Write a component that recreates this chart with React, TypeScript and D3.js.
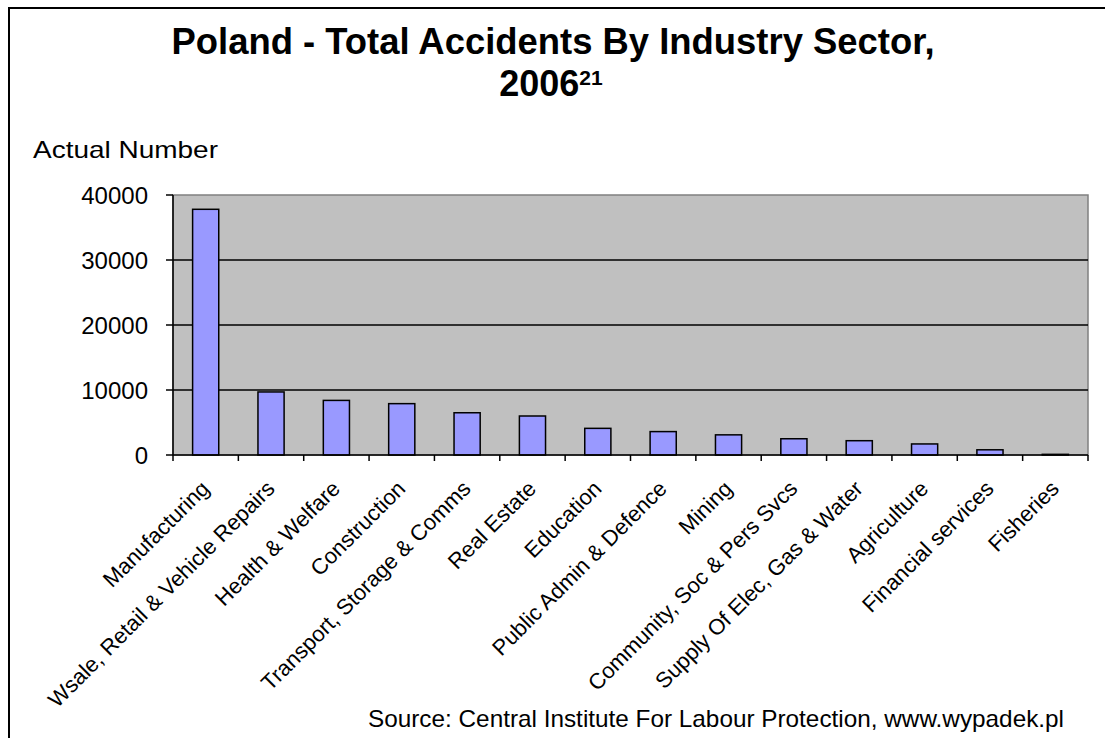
import React from "react";
import * as d3 from "d3";

const categories = [
  "Manufacturing",
  "Wsale, Retail & Vehicle Repairs",
  "Health & Welfare",
  "Construction",
  "Transport, Storage & Comms",
  "Real Estate",
  "Education",
  "Public Admin & Defence",
  "Mining",
  "Community, Soc & Pers Svcs",
  "Supply Of Elec, Gas & Water",
  "Agriculture",
  "Financial services",
  "Fisheries",
];
const values = [37800, 9700, 8400, 7900, 6500, 6000, 4100, 3600, 3100, 2500, 2200, 1700, 800, 100];
const yTicks = [0, 10000, 20000, 30000, 40000];

const W = 1105;
const H = 738;
const plot = { left: 173, right: 1088, top: 195, bottom: 455 };
const FONT = "Liberation Sans, Arial, sans-serif";

export default function App() {
  const x = d3
    .scaleBand<string>()
    .domain(categories)
    .range([plot.left, plot.right])
    .paddingInner(0.6)
    .paddingOuter(0.3);
  const step = (plot.right - plot.left) / categories.length;
  const y = d3.scaleLinear().domain([0, 40000]).range([plot.bottom, plot.top]);
  const boundaries = d3.range(categories.length + 1).map((i) => plot.left + i * step);

  return (
    <svg
      width={W}
      height={H}
      style={{ position: "absolute", left: 0, top: 0, background: "#fff" }}
      fontFamily={FONT}
    >
      <rect x={9} y={8} width={W + 20} height={H + 20} fill="#fff" stroke="#000" strokeWidth={2} />
      <text x={553} y={54} textAnchor="middle" fontSize={36} fontWeight="bold" textLength={763} lengthAdjust="spacingAndGlyphs">
        Poland - Total Accidents By Industry Sector,
      </text>
      <text x={551} y={96} textAnchor="middle" fontSize={36} fontWeight="bold">
        2006
        <tspan fontSize={21} dy={-11}>21</tspan>
      </text>
      <text x={33} y={158} fontSize={24} textLength={185} lengthAdjust="spacingAndGlyphs">
        Actual Number
      </text>

      <rect
        x={plot.left}
        y={plot.top}
        width={plot.right - plot.left}
        height={plot.bottom - plot.top}
        fill="#C0C0C0"
        stroke="#808080"
        strokeWidth={1.5}
      />
      {yTicks.slice(1, -1).map((t) => (
        <line key={t} x1={plot.left} x2={plot.right} y1={y(t)} y2={y(t)} stroke="#000" strokeWidth={1.5} />
      ))}
      {values.map((v, i) => (
        <rect
          key={categories[i]}
          x={x(categories[i])!}
          y={y(v)}
          width={x.bandwidth()}
          height={plot.bottom - y(v)}
          fill="#9999FF"
          stroke="#000"
          strokeWidth={1.5}
        />
      ))}
      <line x1={plot.left} x2={plot.left} y1={plot.top} y2={plot.bottom} stroke="#000" strokeWidth={1.5} />
      <line x1={plot.left} x2={plot.right} y1={plot.bottom} y2={plot.bottom} stroke="#000" strokeWidth={1.5} />
      {yTicks.map((t) => (
        <g key={t}>
          <line x1={plot.left - 7} x2={plot.left} y1={y(t)} y2={y(t)} stroke="#000" strokeWidth={1.5} />
          <text x={148} y={y(t) + 9} textAnchor="end" fontSize={24}>
            {t}
          </text>
        </g>
      ))}
      {boundaries.map((bx, i) => (
        <line key={i} x1={bx} x2={bx} y1={plot.bottom} y2={plot.bottom + 6} stroke="#000" strokeWidth={1.5} />
      ))}
      {categories.map((c) => {
        const cx = x(c)! + x.bandwidth() / 2 + 5;
        const cy = plot.bottom + 35;
        return (
          <text
            key={c}
            x={cx}
            y={cy}
            textAnchor="end"
            fontSize={22}
            transform={`rotate(-45 ${cx} ${cy})`}
          >
            {c}
          </text>
        );
      })}
      <text x={368} y={727} fontSize={24} textLength={696} lengthAdjust="spacingAndGlyphs">
        Source: Central Institute For Labour Protection, www.wypadek.pl
      </text>
    </svg>
  );
}
